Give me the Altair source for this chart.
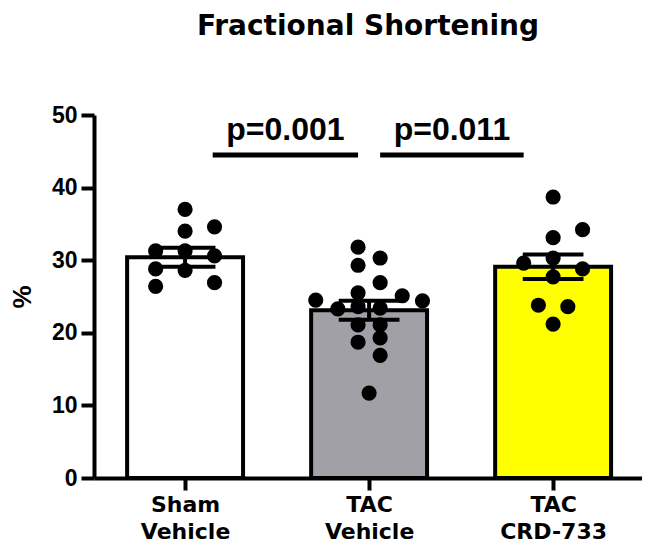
import json
import altair as alt
import pandas as pd

FONT = "Liberation Sans"
WIDE_FONT = "DejaVu Sans"

# ---- data ----
groups = ["Sham Vehicle", "TAC Vehicle", "TAC CRD-733"]
label_lines = [["Sham", "Vehicle"], ["TAC", "Vehicle"], ["TAC", "CRD-733"]]
means = [30.4, 23.1, 29.1]
sems = [1.3, 1.3, 1.7]
fills = ["#ffffff", "#a0a0a6", "#ffff00"]

sham_vals = [37.0, 34.0, 34.6, 31.3, 28.8, 26.4, 31.3, 28.6, 30.6, 26.9]
sham_offs = [0.0, 0.0, 0.16, -0.16, -0.16, -0.16, 0.0, 0.0, 0.16, 0.16]

tac_vals = [31.8, 30.3, 29.3, 26.9, 25.5, 24.5, 25.1, 24.4, 23.3, 23.6, 23.4,
            21.1, 21.1, 18.7, 19.3, 16.9, 11.7]
tac_offs = [-0.06, 0.06, -0.06, 0.06, -0.06, -0.29, 0.18, 0.29, -0.17, -0.06, 0.06,
            -0.06, 0.06, -0.06, 0.06, 0.06, 0.0]

crd_vals = [38.7, 34.2, 33.1, 29.6, 30.3, 28.8, 27.7, 23.8, 23.6, 21.2]
crd_offs = [0.0, 0.16, 0.0, -0.16, 0.0, 0.16, 0.0, -0.08, 0.08, 0.0]

bracket_start = [0.15, 1.06]
bracket_end = [0.94, 1.84]
bracket_y = [44.5, 44.5]
p_text_y = [46.6, 46.6]
p_labels = ["p=0.001", "p=0.011"]

y_ticks = [0, 10, 20, 30, 40, 50]

# ---- tables ----
bars_df = pd.DataFrame({
    "idx": list(range(len(groups))),
    "group": groups,
    "mean": means,
    "sem": sems,
    "fill": fills,
})
bars_df["lo"] = bars_df["mean"] - bars_df["sem"]
bars_df["hi"] = bars_df["mean"] + bars_df["sem"]

dots_df = pd.concat([
    pd.DataFrame({"idx": 0, "off": sham_offs, "value": sham_vals}),
    pd.DataFrame({"idx": 1, "off": tac_offs, "value": tac_vals}),
    pd.DataFrame({"idx": 2, "off": crd_offs, "value": crd_vals}),
], ignore_index=True)

br_df = pd.DataFrame({"x1": bracket_start, "x2": bracket_end,
                      "y": bracket_y, "ty": p_text_y, "label": p_labels})
br_df["xm"] = (br_df["x1"] + br_df["x2"]) / 2

BAR_HALF = 0.315
CAP_HALF = 0.165

xscale = alt.Scale(domain=[-0.495, 2.483], nice=False, zero=False)
yscale = alt.Scale(domain=[0, 50], nice=False)

labels_js = json.dumps(label_lines)

xaxis = alt.Axis(values=[0, 1, 2], labelExpr=f"{labels_js}[datum.value]",
                 grid=False, domainWidth=4, domainColor="black",
                 tickWidth=4, tickColor="black", tickSize=12,
                 labelFont=WIDE_FONT, labelFontWeight="bold", labelFontSize=22,
                 labelColor="black", labelLineHeight=27, labelPadding=4,
                 title=None)
yaxis = alt.Axis(values=y_ticks, grid=False, domainWidth=4, domainColor="black",
                 tickWidth=4, tickColor="black", tickSize=13,
                 labelFont=FONT, labelFontWeight="bold", labelFontSize=23,
                 labelColor="black", labelPadding=4,
                 title="%",
                 titleFont=FONT, titleFontWeight="bold", titleFontSize=26,
                 titleColor="black", titlePadding=16)


def X(field):
    return alt.X(field, scale=xscale, axis=xaxis, title=None)


def Y(field):
    return alt.Y(field, scale=yscale, axis=yaxis, title="%")


bars = alt.Chart(bars_df).transform_calculate(
    xl=f"datum.idx - {BAR_HALF}", xr=f"datum.idx + {BAR_HALF}"
).mark_rect(stroke="black", strokeWidth=4).encode(
    x=X("xl:Q"),
    x2="xr:Q",
    y=Y("mean:Q"),
    y2=alt.datum(0),
    fill=alt.Fill("fill:N", scale=None),
)

err_v = alt.Chart(bars_df).mark_rule(color="black", strokeWidth=4).encode(
    x=X("idx:Q"),
    y=Y("lo:Q"),
    y2="hi:Q",
)

err_caps = alt.Chart(bars_df).transform_fold(
    ["lo", "hi"], as_=["end", "yv"]
).transform_calculate(
    cl=f"datum.idx - {CAP_HALF}", cr=f"datum.idx + {CAP_HALF}"
).mark_rule(color="black", strokeWidth=4).encode(
    x=X("cl:Q"),
    x2="cr:Q",
    y=Y("yv:Q"),
)

dots = alt.Chart(dots_df).transform_calculate(
    xp="datum.idx + datum.off"
).mark_circle(color="black", opacity=1, size=230).encode(
    x=X("xp:Q"),
    y=Y("value:Q"),
)

brackets = alt.Chart(br_df).mark_rule(color="black", strokeWidth=5).encode(
    x=X("x1:Q"),
    x2="x2:Q",
    y=Y("y:Q"),
)

ptext = alt.Chart(br_df).mark_text(
    font=FONT, fontWeight="bold", fontSize=32, color="black", baseline="alphabetic"
).encode(
    x=X("xm:Q"),
    y=Y("ty:Q"),
    text="label:N",
)

chart = alt.layer(bars, err_v, err_caps, dots, brackets, ptext).properties(
    width=548, height=363,
    autosize=alt.AutoSizeParams(type="none"),
    padding={"left": 86, "top": 107, "right": 0, "bottom": 66},
    title=alt.TitleParams("Fractional Shortening", font=WIDE_FONT, fontWeight="bold",
                          fontSize=28, color="black", anchor="middle", offset=63),
).configure(background="white").configure_view(stroke=None)

chart.save("out.html", embed_options={"renderer": "svg", "actions": False})
